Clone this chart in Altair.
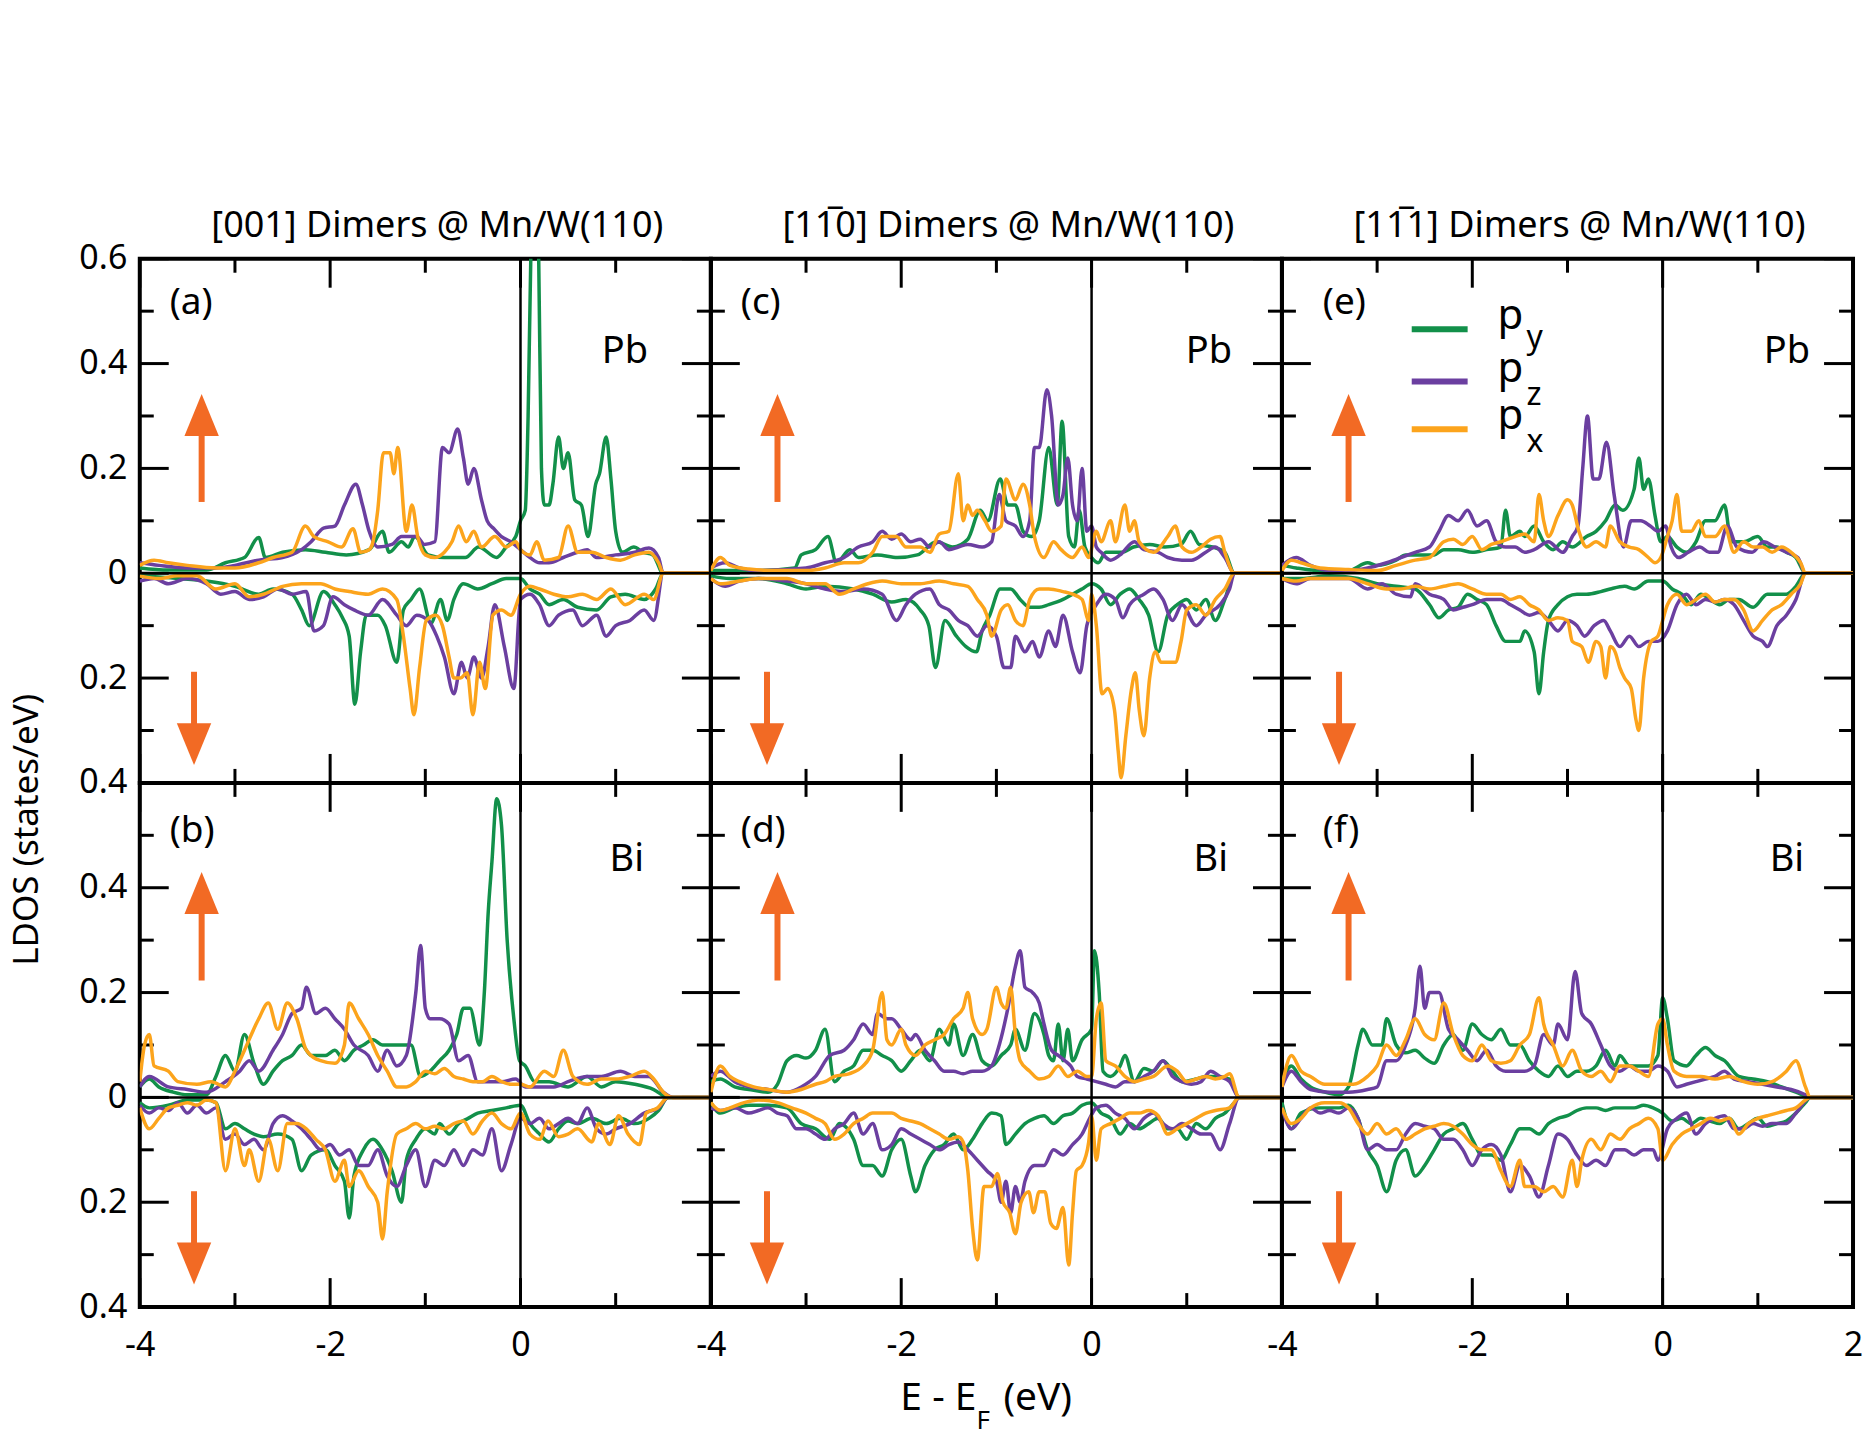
import altair as alt
import pandas as pd

# ---------------------------------------------------------------------------
# Orbital-resolved LDOS of Pb / Bi adatoms next to Mn dimers on W(110).
# Each curve: list of (E - E_F [eV], LDOS [states/eV]).
# Spin-down curves are stored as magnitudes and drawn below zero.
# ---------------------------------------------------------------------------

# (a) [001] dimers, Pb
a_py_up = [(-4, 0.01), (-3.7, 0.006), (-3.3, 0.006), (-3.1, 0.02), (-2.9, 0.03), (-2.75, 0.068), (-2.68, 0.03), (-2.5, 0.04), (-2.26, 0.045), (-2.05, 0.04), (-1.83, 0.035), (-1.59, 0.045), (-1.45, 0.08), (-1.38, 0.04), (-1.25, 0.06), (-1.18, 0.05), (-1.11, 0.07), (-0.97, 0.035), (-0.8, 0.03), (-0.58, 0.03), (-0.44, 0.05), (-0.25, 0.03), (-0.15, 0.05), (-0.05, 0.07), (0.0, 0.1), (0.05, 0.12), (0.08, 0.3), (0.11, 0.62), (0.15, 0.8), (0.19, 0.62), (0.22, 0.2), (0.25, 0.13), (0.3, 0.13), (0.34, 0.17), (0.4, 0.26), (0.45, 0.2), (0.5, 0.23), (0.57, 0.14), (0.64, 0.13), (0.71, 0.07), (0.79, 0.17), (0.83, 0.19), (0.9, 0.26), (0.95, 0.18), (1.0, 0.08), (1.07, 0.04), (1.19, 0.05), (1.29, 0.04), (1.39, 0.035), (1.5, 0.0), (2.0, 0.0)]
a_pz_up = [(-4, 0.02), (-3.8, 0.015), (-3.5, 0.01), (-3.2, 0.01), (-3.0, 0.015), (-2.75, 0.025), (-2.5, 0.03), (-2.3, 0.045), (-2.2, 0.06), (-2.07, 0.086), (-1.95, 0.09), (-1.85, 0.13), (-1.73, 0.17), (-1.66, 0.13), (-1.59, 0.08), (-1.5, 0.05), (-1.35, 0.055), (-1.25, 0.07), (-1.16, 0.07), (-1.09, 0.07), (-1.01, 0.055), (-0.9, 0.06), (-0.82, 0.24), (-0.75, 0.23), (-0.66, 0.275), (-0.6, 0.22), (-0.55, 0.17), (-0.49, 0.2), (-0.41, 0.14), (-0.35, 0.1), (-0.28, 0.085), (-0.2, 0.07), (-0.1, 0.06), (0.0, 0.045), (0.1, 0.03), (0.2, 0.02), (0.3, 0.02), (0.45, 0.03), (0.6, 0.04), (0.7, 0.045), (0.8, 0.03), (1.0, 0.035), (1.2, 0.04), (1.35, 0.048), (1.45, 0.03), (1.5, 0.0), (2.0, 0.0)]
a_px_up = [(-4, 0.015), (-3.85, 0.025), (-3.7, 0.02), (-3.5, 0.015), (-3.2, 0.01), (-3.0, 0.01), (-2.75, 0.02), (-2.6, 0.03), (-2.4, 0.04), (-2.26, 0.09), (-2.17, 0.07), (-2.02, 0.06), (-1.88, 0.05), (-1.76, 0.085), (-1.68, 0.04), (-1.59, 0.045), (-1.55, 0.06), (-1.5, 0.12), (-1.44, 0.23), (-1.37, 0.23), (-1.33, 0.19), (-1.29, 0.24), (-1.2, 0.08), (-1.14, 0.13), (-1.08, 0.07), (-1.0, 0.035), (-0.9, 0.03), (-0.8, 0.04), (-0.72, 0.06), (-0.65, 0.09), (-0.57, 0.06), (-0.49, 0.08), (-0.41, 0.05), (-0.27, 0.07), (-0.15, 0.05), (-0.05, 0.06), (0.0, 0.045), (0.1, 0.035), (0.17, 0.06), (0.25, 0.025), (0.4, 0.03), (0.5, 0.09), (0.6, 0.04), (0.75, 0.04), (0.9, 0.03), (1.05, 0.025), (1.2, 0.035), (1.35, 0.04), (1.45, 0.02), (1.5, 0.0), (2.0, 0.0)]
a_py_dn = [(-4, 0.005), (-3.6, 0.01), (-3.3, 0.015), (-3.0, 0.025), (-2.75, 0.04), (-2.6, 0.03), (-2.4, 0.04), (-2.3, 0.07), (-2.22, 0.1), (-2.07, 0.035), (-1.95, 0.06), (-1.87, 0.085), (-1.8, 0.12), (-1.74, 0.25), (-1.68, 0.15), (-1.62, 0.08), (-1.5, 0.08), (-1.42, 0.1), (-1.3, 0.17), (-1.23, 0.07), (-1.15, 0.05), (-1.06, 0.03), (-0.94, 0.095), (-0.84, 0.05), (-0.77, 0.09), (-0.7, 0.05), (-0.6, 0.02), (-0.45, 0.03), (-0.3, 0.02), (-0.15, 0.01), (0.0, 0.01), (0.1, 0.03), (0.2, 0.04), (0.3, 0.06), (0.45, 0.05), (0.6, 0.065), (0.8, 0.07), (0.95, 0.045), (1.1, 0.04), (1.3, 0.05), (1.42, 0.03), (1.5, 0.0), (2.0, 0.0)]
a_pz_dn = [(-4, 0.015), (-3.85, 0.01), (-3.7, 0.02), (-3.5, 0.01), (-3.3, 0.02), (-3.15, 0.04), (-3.0, 0.035), (-2.85, 0.05), (-2.7, 0.045), (-2.55, 0.03), (-2.4, 0.04), (-2.25, 0.035), (-2.17, 0.11), (-2.07, 0.1), (-1.97, 0.045), (-1.85, 0.06), (-1.75, 0.07), (-1.6, 0.08), (-1.45, 0.05), (-1.3, 0.08), (-1.2, 0.1), (-1.09, 0.08), (-0.97, 0.09), (-0.88, 0.12), (-0.8, 0.16), (-0.7, 0.23), (-0.62, 0.17), (-0.56, 0.2), (-0.49, 0.16), (-0.41, 0.2), (-0.34, 0.14), (-0.27, 0.06), (-0.17, 0.14), (-0.07, 0.22), (0.0, 0.05), (0.1, 0.04), (0.2, 0.06), (0.3, 0.1), (0.4, 0.08), (0.55, 0.07), (0.65, 0.1), (0.8, 0.08), (0.9, 0.12), (1.0, 0.1), (1.15, 0.09), (1.3, 0.07), (1.4, 0.09), (1.5, 0.0), (2.0, 0.0)]
a_px_dn = [(-4, 0.005), (-3.8, 0.01), (-3.6, 0.005), (-3.4, 0.005), (-3.2, 0.03), (-3.0, 0.02), (-2.85, 0.045), (-2.7, 0.04), (-2.5, 0.025), (-2.3, 0.02), (-2.1, 0.02), (-1.95, 0.03), (-1.8, 0.035), (-1.6, 0.04), (-1.45, 0.03), (-1.3, 0.05), (-1.23, 0.12), (-1.16, 0.22), (-1.12, 0.27), (-1.06, 0.18), (-0.99, 0.09), (-0.89, 0.08), (-0.82, 0.1), (-0.75, 0.16), (-0.7, 0.2), (-0.63, 0.2), (-0.56, 0.19), (-0.5, 0.27), (-0.43, 0.17), (-0.37, 0.22), (-0.29, 0.08), (-0.2, 0.07), (-0.1, 0.08), (0.0, 0.04), (0.1, 0.025), (0.2, 0.03), (0.35, 0.04), (0.5, 0.045), (0.65, 0.04), (0.8, 0.05), (0.95, 0.03), (1.1, 0.06), (1.3, 0.04), (1.4, 0.05), (1.5, 0.0), (2.0, 0.0)]

# (b) [001] dimers, Bi
b_py_up = [(-4, 0.02), (-3.9, 0.035), (-3.8, 0.02), (-3.65, 0.01), (-3.5, 0.005), (-3.3, 0.005), (-3.2, 0.04), (-3.1, 0.08), (-3.0, 0.05), (-2.9, 0.12), (-2.8, 0.065), (-2.7, 0.025), (-2.6, 0.05), (-2.5, 0.07), (-2.4, 0.08), (-2.3, 0.1), (-2.2, 0.08), (-2.05, 0.08), (-1.95, 0.09), (-1.85, 0.07), (-1.75, 0.09), (-1.65, 0.1), (-1.55, 0.11), (-1.45, 0.1), (-1.35, 0.1), (-1.25, 0.1), (-1.15, 0.1), (-1.05, 0.04), (-0.95, 0.05), (-0.85, 0.07), (-0.75, 0.09), (-0.67, 0.12), (-0.6, 0.17), (-0.53, 0.17), (-0.43, 0.1), (-0.38, 0.2), (-0.34, 0.35), (-0.3, 0.45), (-0.25, 0.57), (-0.2, 0.52), (-0.14, 0.3), (-0.07, 0.15), (-0.01, 0.07), (0.05, 0.06), (0.15, 0.03), (0.3, 0.03), (0.5, 0.02), (0.7, 0.04), (0.85, 0.02), (1.0, 0.03), (1.2, 0.025), (1.4, 0.015), (1.55, 0.0), (2.0, 0.0)]
b_pz_up = [(-4, 0.02), (-3.9, 0.04), (-3.7, 0.02), (-3.5, 0.015), (-3.3, 0.01), (-3.1, 0.03), (-2.95, 0.05), (-2.85, 0.07), (-2.75, 0.05), (-2.6, 0.09), (-2.5, 0.12), (-2.4, 0.16), (-2.3, 0.17), (-2.25, 0.21), (-2.15, 0.16), (-2.05, 0.17), (-1.95, 0.15), (-1.85, 0.13), (-1.75, 0.1), (-1.6, 0.08), (-1.5, 0.05), (-1.4, 0.09), (-1.3, 0.06), (-1.2, 0.08), (-1.1, 0.2), (-1.05, 0.29), (-1.0, 0.17), (-0.95, 0.15), (-0.85, 0.15), (-0.75, 0.14), (-0.65, 0.07), (-0.55, 0.08), (-0.45, 0.03), (-0.35, 0.03), (-0.2, 0.03), (-0.05, 0.035), (0.05, 0.02), (0.2, 0.02), (0.35, 0.02), (0.5, 0.03), (0.7, 0.04), (0.85, 0.04), (1.05, 0.05), (1.2, 0.04), (1.35, 0.04), (1.5, 0.01), (1.6, 0.0), (2.0, 0.0)]
b_px_up = [(-4, 0.03), (-3.95, 0.1), (-3.9, 0.12), (-3.85, 0.06), (-3.7, 0.05), (-3.6, 0.03), (-3.4, 0.025), (-3.25, 0.03), (-3.1, 0.02), (-3.0, 0.05), (-2.9, 0.09), (-2.75, 0.15), (-2.65, 0.18), (-2.55, 0.13), (-2.45, 0.18), (-2.35, 0.15), (-2.25, 0.09), (-2.1, 0.07), (-1.95, 0.065), (-1.85, 0.1), (-1.8, 0.18), (-1.7, 0.15), (-1.6, 0.12), (-1.5, 0.08), (-1.4, 0.05), (-1.3, 0.02), (-1.2, 0.02), (-1.1, 0.03), (-1.0, 0.05), (-0.9, 0.045), (-0.8, 0.055), (-0.7, 0.04), (-0.6, 0.035), (-0.5, 0.03), (-0.4, 0.03), (-0.3, 0.04), (-0.2, 0.03), (-0.1, 0.025), (0.0, 0.025), (0.1, 0.02), (0.25, 0.05), (0.35, 0.04), (0.45, 0.09), (0.55, 0.04), (0.7, 0.025), (0.85, 0.035), (1.0, 0.035), (1.15, 0.04), (1.3, 0.05), (1.4, 0.035), (1.5, 0.01), (1.6, 0.0), (2.0, 0.0)]
b_py_dn = [(-4, 0.01), (-3.9, 0.02), (-3.7, 0.015), (-3.5, 0.005), (-3.3, 0.005), (-3.2, 0.01), (-3.1, 0.06), (-3.0, 0.05), (-2.9, 0.06), (-2.8, 0.07), (-2.7, 0.075), (-2.55, 0.07), (-2.4, 0.08), (-2.3, 0.14), (-2.2, 0.11), (-2.05, 0.1), (-1.95, 0.13), (-1.85, 0.16), (-1.8, 0.23), (-1.75, 0.15), (-1.65, 0.1), (-1.55, 0.08), (-1.45, 0.1), (-1.35, 0.14), (-1.25, 0.2), (-1.2, 0.12), (-1.1, 0.08), (-1.0, 0.06), (-0.9, 0.07), (-0.85, 0.05), (-0.75, 0.07), (-0.65, 0.05), (-0.55, 0.04), (-0.45, 0.03), (-0.3, 0.025), (-0.15, 0.02), (0.0, 0.015), (0.1, 0.05), (0.2, 0.07), (0.3, 0.085), (0.4, 0.06), (0.5, 0.045), (0.6, 0.05), (0.75, 0.04), (0.9, 0.05), (1.05, 0.04), (1.2, 0.05), (1.35, 0.04), (1.45, 0.025), (1.55, 0.0), (2.0, 0.0)]
b_pz_dn = [(-4, 0.015), (-3.9, 0.03), (-3.8, 0.02), (-3.7, 0.025), (-3.6, 0.01), (-3.5, 0.03), (-3.4, 0.015), (-3.3, 0.03), (-3.2, 0.02), (-3.1, 0.08), (-3.0, 0.07), (-2.9, 0.09), (-2.8, 0.08), (-2.7, 0.1), (-2.6, 0.05), (-2.5, 0.035), (-2.4, 0.045), (-2.3, 0.06), (-2.2, 0.08), (-2.1, 0.1), (-2.0, 0.09), (-1.9, 0.11), (-1.8, 0.1), (-1.7, 0.13), (-1.6, 0.13), (-1.5, 0.1), (-1.4, 0.15), (-1.3, 0.17), (-1.2, 0.13), (-1.1, 0.1), (-1.0, 0.17), (-0.9, 0.12), (-0.8, 0.13), (-0.7, 0.1), (-0.6, 0.13), (-0.5, 0.1), (-0.4, 0.11), (-0.3, 0.06), (-0.2, 0.14), (-0.1, 0.09), (0.0, 0.04), (0.1, 0.05), (0.2, 0.04), (0.3, 0.06), (0.4, 0.05), (0.5, 0.04), (0.6, 0.05), (0.7, 0.02), (0.8, 0.06), (0.9, 0.07), (1.0, 0.06), (1.15, 0.05), (1.3, 0.03), (1.45, 0.02), (1.55, 0.0), (2.0, 0.0)]
b_px_dn = [(-4, 0.02), (-3.9, 0.06), (-3.8, 0.04), (-3.7, 0.02), (-3.6, 0.015), (-3.5, 0.01), (-3.4, 0.015), (-3.3, 0.005), (-3.2, 0.01), (-3.1, 0.14), (-3.0, 0.06), (-2.9, 0.13), (-2.85, 0.1), (-2.75, 0.16), (-2.65, 0.08), (-2.55, 0.14), (-2.45, 0.05), (-2.35, 0.05), (-2.25, 0.06), (-2.15, 0.08), (-2.05, 0.1), (-1.95, 0.16), (-1.85, 0.12), (-1.8, 0.17), (-1.7, 0.14), (-1.6, 0.17), (-1.5, 0.2), (-1.45, 0.27), (-1.4, 0.18), (-1.3, 0.07), (-1.2, 0.06), (-1.1, 0.05), (-1.0, 0.06), (-0.9, 0.055), (-0.8, 0.06), (-0.7, 0.05), (-0.6, 0.045), (-0.5, 0.07), (-0.4, 0.045), (-0.3, 0.03), (-0.2, 0.05), (-0.1, 0.06), (0.0, 0.03), (0.1, 0.07), (0.2, 0.08), (0.29, 0.045), (0.4, 0.075), (0.5, 0.07), (0.6, 0.06), (0.75, 0.085), (0.82, 0.05), (0.94, 0.09), (1.03, 0.035), (1.13, 0.07), (1.25, 0.09), (1.32, 0.03), (1.44, 0.02), (1.55, 0.0), (2.0, 0.0)]

# (c) [1-10] dimers, Pb
c_py_up = [(-4, 0.005), (-3.5, 0.005), (-3.12, 0.01), (-3.05, 0.035), (-2.9, 0.045), (-2.77, 0.07), (-2.68, 0.02), (-2.54, 0.045), (-2.45, 0.03), (-2.25, 0.035), (-2.04, 0.03), (-1.83, 0.035), (-1.63, 0.06), (-1.46, 0.05), (-1.3, 0.065), (-1.17, 0.12), (-1.09, 0.1), (-0.96, 0.18), (-0.88, 0.13), (-0.8, 0.13), (-0.72, 0.08), (-0.63, 0.07), (-0.55, 0.1), (-0.45, 0.24), (-0.36, 0.13), (-0.31, 0.29), (-0.24, 0.07), (-0.18, 0.05), (-0.13, 0.12), (-0.07, 0.05), (0.0, 0.03), (0.07, 0.02), (0.15, 0.04), (0.32, 0.04), (0.44, 0.05), (0.61, 0.055), (0.77, 0.05), (0.94, 0.055), (1.04, 0.08), (1.13, 0.055), (1.27, 0.05), (1.4, 0.04), (1.5, 0.0), (2.0, 0.0)]
c_pz_up = [(-4, 0.01), (-3.85, 0.02), (-3.7, 0.01), (-3.5, 0.005), (-3.0, 0.01), (-2.8, 0.02), (-2.6, 0.03), (-2.45, 0.05), (-2.3, 0.06), (-2.2, 0.08), (-2.1, 0.065), (-2.0, 0.075), (-1.9, 0.06), (-1.8, 0.065), (-1.7, 0.05), (-1.6, 0.06), (-1.5, 0.045), (-1.4, 0.05), (-1.3, 0.055), (-1.15, 0.05), (-1.05, 0.06), (-0.97, 0.15), (-0.9, 0.1), (-0.8, 0.09), (-0.72, 0.07), (-0.65, 0.1), (-0.6, 0.24), (-0.55, 0.24), (-0.47, 0.35), (-0.42, 0.3), (-0.35, 0.13), (-0.3, 0.15), (-0.25, 0.22), (-0.2, 0.13), (-0.15, 0.1), (-0.1, 0.2), (-0.05, 0.08), (0.0, 0.09), (0.05, 0.05), (0.1, 0.04), (0.2, 0.025), (0.3, 0.035), (0.45, 0.06), (0.55, 0.045), (0.7, 0.04), (0.8, 0.03), (0.95, 0.025), (1.05, 0.025), (1.2, 0.04), (1.3, 0.05), (1.4, 0.03), (1.5, 0.0), (2.0, 0.0)]
c_px_up = [(-4, 0.005), (-3.9, 0.03), (-3.8, 0.015), (-3.6, 0.008), (-3.3, 0.005), (-3.0, 0.005), (-2.8, 0.01), (-2.6, 0.02), (-2.45, 0.02), (-2.3, 0.04), (-2.2, 0.07), (-2.05, 0.07), (-1.95, 0.05), (-1.8, 0.05), (-1.7, 0.04), (-1.6, 0.075), (-1.5, 0.08), (-1.4, 0.19), (-1.35, 0.1), (-1.3, 0.13), (-1.25, 0.11), (-1.2, 0.12), (-1.12, 0.1), (-1.05, 0.08), (-0.95, 0.09), (-0.9, 0.18), (-0.8, 0.14), (-0.72, 0.17), (-0.65, 0.13), (-0.6, 0.07), (-0.5, 0.03), (-0.4, 0.06), (-0.32, 0.045), (-0.2, 0.03), (-0.1, 0.05), (-0.03, 0.03), (0.05, 0.08), (0.1, 0.06), (0.2, 0.1), (0.25, 0.06), (0.35, 0.13), (0.4, 0.08), (0.45, 0.1), (0.5, 0.06), (0.65, 0.04), (0.8, 0.07), (0.88, 0.09), (0.95, 0.05), (1.05, 0.04), (1.15, 0.05), (1.25, 0.065), (1.35, 0.07), (1.4, 0.04), (1.5, 0.0), (2.0, 0.0)]
c_py_dn = [(-4, 0.005), (-3.8, 0.01), (-3.5, 0.01), (-3.2, 0.02), (-3.0, 0.03), (-2.8, 0.025), (-2.5, 0.03), (-2.3, 0.04), (-2.1, 0.055), (-1.95, 0.05), (-1.8, 0.07), (-1.71, 0.1), (-1.64, 0.18), (-1.54, 0.09), (-1.42, 0.12), (-1.32, 0.14), (-1.21, 0.15), (-1.15, 0.11), (-1.07, 0.08), (-0.96, 0.03), (-0.85, 0.03), (-0.75, 0.05), (-0.65, 0.065), (-0.55, 0.065), (-0.45, 0.06), (-0.3, 0.05), (-0.2, 0.04), (-0.1, 0.03), (0.0, 0.02), (0.1, 0.03), (0.2, 0.06), (0.3, 0.04), (0.4, 0.03), (0.5, 0.05), (0.6, 0.08), (0.7, 0.15), (0.8, 0.08), (0.9, 0.06), (1.0, 0.05), (1.1, 0.07), (1.2, 0.05), (1.3, 0.09), (1.4, 0.05), (1.5, 0.0), (2.0, 0.0)]
c_pz_dn = [(-4, 0.01), (-3.85, 0.025), (-3.7, 0.015), (-3.5, 0.01), (-3.2, 0.015), (-3.0, 0.02), (-2.8, 0.03), (-2.6, 0.035), (-2.4, 0.03), (-2.2, 0.04), (-2.05, 0.09), (-1.95, 0.06), (-1.85, 0.04), (-1.7, 0.03), (-1.6, 0.06), (-1.5, 0.07), (-1.4, 0.09), (-1.3, 0.1), (-1.2, 0.12), (-1.1, 0.1), (-1.0, 0.12), (-0.92, 0.18), (-0.85, 0.18), (-0.8, 0.12), (-0.7, 0.15), (-0.62, 0.13), (-0.55, 0.16), (-0.45, 0.11), (-0.38, 0.14), (-0.3, 0.08), (-0.2, 0.15), (-0.12, 0.19), (-0.05, 0.1), (0.05, 0.06), (0.15, 0.04), (0.25, 0.05), (0.33, 0.085), (0.4, 0.06), (0.55, 0.04), (0.65, 0.03), (0.75, 0.05), (0.85, 0.09), (0.95, 0.06), (1.1, 0.1), (1.2, 0.08), (1.35, 0.06), (1.45, 0.03), (1.5, 0.0), (2.0, 0.0)]
c_px_dn = [(-4, 0.01), (-3.9, 0.02), (-3.7, 0.015), (-3.5, 0.01), (-3.2, 0.01), (-3.0, 0.02), (-2.8, 0.02), (-2.65, 0.04), (-2.5, 0.03), (-2.35, 0.02), (-2.2, 0.015), (-2.0, 0.02), (-1.8, 0.02), (-1.6, 0.015), (-1.45, 0.02), (-1.3, 0.025), (-1.2, 0.05), (-1.1, 0.08), (-1.05, 0.12), (-0.95, 0.07), (-0.88, 0.06), (-0.8, 0.09), (-0.72, 0.1), (-0.65, 0.05), (-0.55, 0.03), (-0.45, 0.03), (-0.3, 0.035), (-0.2, 0.04), (-0.1, 0.05), (-0.03, 0.09), (0.0, 0.04), (0.05, 0.1), (0.11, 0.23), (0.17, 0.22), (0.24, 0.26), (0.28, 0.34), (0.31, 0.39), (0.36, 0.31), (0.42, 0.22), (0.46, 0.19), (0.5, 0.26), (0.55, 0.31), (0.61, 0.2), (0.67, 0.15), (0.73, 0.17), (0.82, 0.17), (0.88, 0.17), (0.94, 0.13), (1.0, 0.07), (1.1, 0.06), (1.2, 0.08), (1.3, 0.05), (1.4, 0.03), (1.5, 0.0), (2.0, 0.0)]

# (d) [1-10] dimers, Bi
d_py_up = [(-4, 0.03), (-3.9, 0.035), (-3.75, 0.02), (-3.6, 0.015), (-3.4, 0.01), (-3.3, 0.025), (-3.2, 0.07), (-3.1, 0.08), (-3.0, 0.075), (-2.9, 0.09), (-2.8, 0.13), (-2.7, 0.03), (-2.6, 0.05), (-2.5, 0.06), (-2.4, 0.09), (-2.3, 0.09), (-2.2, 0.08), (-2.1, 0.07), (-2.0, 0.05), (-1.9, 0.07), (-1.8, 0.09), (-1.7, 0.07), (-1.6, 0.13), (-1.5, 0.1), (-1.45, 0.14), (-1.35, 0.08), (-1.25, 0.12), (-1.15, 0.07), (-1.05, 0.06), (-0.95, 0.08), (-0.85, 0.1), (-0.8, 0.13), (-0.7, 0.09), (-0.6, 0.16), (-0.5, 0.12), (-0.45, 0.08), (-0.4, 0.07), (-0.35, 0.14), (-0.3, 0.07), (-0.25, 0.13), (-0.2, 0.07), (-0.1, 0.11), (0.0, 0.13), (0.03, 0.28), (0.08, 0.2), (0.12, 0.05), (0.2, 0.04), (0.3, 0.06), (0.35, 0.08), (0.45, 0.03), (0.55, 0.055), (0.65, 0.05), (0.75, 0.07), (0.85, 0.05), (0.95, 0.03), (1.1, 0.035), (1.2, 0.04), (1.3, 0.04), (1.45, 0.035), (1.55, 0.0), (2.0, 0.0)]
d_pz_up = [(-4, 0.04), (-3.9, 0.05), (-3.75, 0.03), (-3.6, 0.02), (-3.4, 0.015), (-3.2, 0.01), (-3.05, 0.02), (-2.9, 0.04), (-2.75, 0.08), (-2.6, 0.09), (-2.5, 0.11), (-2.4, 0.14), (-2.3, 0.12), (-2.25, 0.16), (-2.15, 0.15), (-2.1, 0.15), (-2.0, 0.13), (-1.9, 0.11), (-1.85, 0.12), (-1.75, 0.09), (-1.65, 0.07), (-1.55, 0.05), (-1.45, 0.05), (-1.35, 0.045), (-1.25, 0.05), (-1.15, 0.05), (-1.05, 0.06), (-0.97, 0.1), (-0.88, 0.17), (-0.8, 0.25), (-0.75, 0.28), (-0.7, 0.21), (-0.62, 0.2), (-0.55, 0.18), (-0.5, 0.14), (-0.42, 0.09), (-0.35, 0.08), (-0.28, 0.07), (-0.22, 0.06), (-0.15, 0.04), (-0.05, 0.035), (0.05, 0.03), (0.15, 0.025), (0.25, 0.02), (0.35, 0.03), (0.45, 0.03), (0.55, 0.04), (0.65, 0.05), (0.75, 0.07), (0.85, 0.04), (0.95, 0.03), (1.05, 0.025), (1.15, 0.03), (1.25, 0.05), (1.35, 0.04), (1.45, 0.03), (1.55, 0.0), (2.0, 0.0)]
d_px_up = [(-4, 0.01), (-3.9, 0.06), (-3.8, 0.04), (-3.7, 0.03), (-3.55, 0.02), (-3.4, 0.015), (-3.2, 0.01), (-3.05, 0.015), (-2.9, 0.025), (-2.8, 0.03), (-2.7, 0.04), (-2.55, 0.045), (-2.4, 0.06), (-2.3, 0.09), (-2.2, 0.2), (-2.15, 0.11), (-2.1, 0.1), (-2.0, 0.13), (-1.95, 0.1), (-1.85, 0.08), (-1.75, 0.1), (-1.65, 0.11), (-1.55, 0.12), (-1.45, 0.15), (-1.35, 0.17), (-1.3, 0.2), (-1.25, 0.15), (-1.15, 0.12), (-1.1, 0.13), (-1.0, 0.21), (-0.95, 0.18), (-0.9, 0.17), (-0.85, 0.21), (-0.8, 0.12), (-0.75, 0.07), (-0.65, 0.05), (-0.55, 0.035), (-0.45, 0.04), (-0.35, 0.06), (-0.25, 0.04), (-0.15, 0.05), (-0.05, 0.04), (0.0, 0.04), (0.05, 0.15), (0.1, 0.18), (0.15, 0.07), (0.25, 0.06), (0.35, 0.04), (0.45, 0.03), (0.55, 0.035), (0.65, 0.04), (0.8, 0.06), (0.9, 0.05), (1.0, 0.03), (1.1, 0.035), (1.2, 0.04), (1.3, 0.035), (1.4, 0.04), (1.45, 0.045), (1.55, 0.0), (2.0, 0.0)]
d_py_dn = [(-4, 0.01), (-3.9, 0.03), (-3.75, 0.02), (-3.6, 0.015), (-3.4, 0.015), (-3.2, 0.02), (-3.05, 0.05), (-2.9, 0.06), (-2.75, 0.08), (-2.65, 0.05), (-2.5, 0.08), (-2.4, 0.13), (-2.3, 0.13), (-2.2, 0.15), (-2.1, 0.1), (-2.0, 0.08), (-1.9, 0.15), (-1.85, 0.18), (-1.75, 0.13), (-1.65, 0.1), (-1.55, 0.09), (-1.45, 0.07), (-1.35, 0.1), (-1.25, 0.08), (-1.15, 0.05), (-1.05, 0.03), (-0.95, 0.035), (-0.9, 0.09), (-0.8, 0.07), (-0.7, 0.05), (-0.6, 0.04), (-0.5, 0.035), (-0.4, 0.05), (-0.3, 0.035), (-0.2, 0.03), (-0.1, 0.015), (0.0, 0.01), (0.1, 0.03), (0.2, 0.04), (0.3, 0.07), (0.4, 0.05), (0.5, 0.06), (0.6, 0.05), (0.7, 0.04), (0.8, 0.06), (0.9, 0.06), (1.0, 0.08), (1.1, 0.05), (1.2, 0.06), (1.3, 0.04), (1.4, 0.03), (1.5, 0.01), (1.55, 0.0), (2.0, 0.0)]
d_pz_dn = [(-4, 0.02), (-3.9, 0.025), (-3.75, 0.02), (-3.6, 0.03), (-3.5, 0.025), (-3.4, 0.02), (-3.3, 0.03), (-3.2, 0.035), (-3.1, 0.06), (-3.0, 0.06), (-2.9, 0.07), (-2.8, 0.08), (-2.7, 0.06), (-2.6, 0.05), (-2.5, 0.03), (-2.4, 0.07), (-2.3, 0.05), (-2.2, 0.1), (-2.1, 0.09), (-2.0, 0.06), (-1.9, 0.07), (-1.8, 0.08), (-1.7, 0.09), (-1.6, 0.1), (-1.5, 0.09), (-1.4, 0.085), (-1.3, 0.1), (-1.2, 0.12), (-1.1, 0.14), (-1.0, 0.16), (-0.95, 0.2), (-0.9, 0.16), (-0.85, 0.22), (-0.8, 0.17), (-0.75, 0.2), (-0.7, 0.16), (-0.6, 0.13), (-0.5, 0.13), (-0.4, 0.1), (-0.3, 0.11), (-0.2, 0.09), (-0.1, 0.07), (-0.02, 0.04), (0.05, 0.02), (0.15, 0.015), (0.25, 0.03), (0.35, 0.04), (0.45, 0.06), (0.55, 0.04), (0.65, 0.03), (0.75, 0.05), (0.85, 0.06), (0.95, 0.05), (1.05, 0.06), (1.15, 0.07), (1.25, 0.07), (1.35, 0.1), (1.45, 0.05), (1.55, 0.0), (2.0, 0.0)]
d_px_dn = [(-4, 0.01), (-3.9, 0.025), (-3.8, 0.02), (-3.65, 0.01), (-3.5, 0.005), (-3.3, 0.01), (-3.15, 0.02), (-3.0, 0.03), (-2.9, 0.04), (-2.8, 0.05), (-2.7, 0.08), (-2.6, 0.07), (-2.5, 0.05), (-2.4, 0.04), (-2.3, 0.03), (-2.2, 0.03), (-2.1, 0.03), (-2.0, 0.04), (-1.9, 0.045), (-1.8, 0.05), (-1.7, 0.06), (-1.6, 0.07), (-1.5, 0.08), (-1.4, 0.075), (-1.35, 0.085), (-1.3, 0.14), (-1.25, 0.25), (-1.2, 0.31), (-1.13, 0.17), (-1.05, 0.17), (-0.99, 0.145), (-0.93, 0.2), (-0.86, 0.22), (-0.8, 0.26), (-0.74, 0.2), (-0.66, 0.18), (-0.61, 0.22), (-0.55, 0.18), (-0.49, 0.18), (-0.43, 0.24), (-0.37, 0.25), (-0.3, 0.21), (-0.24, 0.32), (-0.2, 0.22), (-0.16, 0.14), (-0.1, 0.13), (-0.03, 0.085), (0.0, 0.035), (0.05, 0.12), (0.1, 0.06), (0.2, 0.05), (0.3, 0.04), (0.4, 0.03), (0.5, 0.03), (0.6, 0.025), (0.7, 0.035), (0.8, 0.07), (0.9, 0.06), (1.0, 0.05), (1.1, 0.04), (1.2, 0.03), (1.3, 0.025), (1.45, 0.02), (1.55, 0.0), (2.0, 0.0)]

# (e) [1-11] dimers, Pb
e_py_up = [(-4, 0.015), (-3.85, 0.01), (-3.6, 0.005), (-3.3, 0.005), (-3.1, 0.02), (-3.0, 0.015), (-2.8, 0.025), (-2.7, 0.035), (-2.55, 0.035), (-2.4, 0.035), (-2.3, 0.045), (-2.15, 0.045), (-2.0, 0.04), (-1.85, 0.045), (-1.7, 0.05), (-1.65, 0.12), (-1.6, 0.07), (-1.5, 0.08), (-1.45, 0.07), (-1.35, 0.09), (-1.25, 0.06), (-1.15, 0.045), (-1.05, 0.06), (-0.95, 0.05), (-0.8, 0.07), (-0.7, 0.08), (-0.6, 0.1), (-0.5, 0.13), (-0.42, 0.12), (-0.3, 0.16), (-0.25, 0.22), (-0.2, 0.16), (-0.15, 0.18), (-0.08, 0.11), (-0.02, 0.06), (0.05, 0.07), (0.15, 0.05), (0.25, 0.04), (0.35, 0.06), (0.45, 0.1), (0.55, 0.1), (0.65, 0.13), (0.72, 0.06), (0.85, 0.06), (1.0, 0.07), (1.1, 0.05), (1.2, 0.05), (1.3, 0.04), (1.4, 0.03), (1.5, 0.0), (2.0, 0.0)]
e_pz_up = [(-4, 0.015), (-3.85, 0.03), (-3.7, 0.015), (-3.5, 0.005), (-3.3, 0.005), (-3.1, 0.01), (-2.9, 0.02), (-2.75, 0.03), (-2.6, 0.04), (-2.45, 0.05), (-2.35, 0.08), (-2.25, 0.11), (-2.15, 0.1), (-2.05, 0.12), (-1.95, 0.09), (-1.85, 0.1), (-1.75, 0.06), (-1.65, 0.05), (-1.55, 0.05), (-1.45, 0.04), (-1.35, 0.045), (-1.2, 0.06), (-1.05, 0.04), (-0.95, 0.07), (-0.89, 0.09), (-0.84, 0.2), (-0.79, 0.3), (-0.73, 0.18), (-0.67, 0.18), (-0.59, 0.25), (-0.51, 0.15), (-0.41, 0.05), (-0.33, 0.1), (-0.23, 0.1), (-0.13, 0.09), (-0.05, 0.08), (0.03, 0.09), (0.09, 0.05), (0.17, 0.03), (0.27, 0.04), (0.39, 0.05), (0.49, 0.04), (0.58, 0.04), (0.68, 0.09), (0.78, 0.05), (0.94, 0.04), (1.06, 0.06), (1.18, 0.05), (1.3, 0.04), (1.42, 0.03), (1.5, 0.0), (2.0, 0.0)]
e_px_up = [(-4, 0.005), (-3.9, 0.025), (-3.8, 0.02), (-3.6, 0.01), (-3.3, 0.007), (-3.0, 0.005), (-2.8, 0.015), (-2.6, 0.025), (-2.45, 0.03), (-2.3, 0.06), (-2.2, 0.065), (-2.1, 0.055), (-2.0, 0.07), (-1.9, 0.045), (-1.8, 0.055), (-1.7, 0.06), (-1.55, 0.07), (-1.45, 0.075), (-1.35, 0.06), (-1.3, 0.15), (-1.25, 0.1), (-1.2, 0.07), (-1.1, 0.11), (-1.0, 0.14), (-0.95, 0.13), (-0.88, 0.08), (-0.8, 0.05), (-0.7, 0.06), (-0.6, 0.05), (-0.55, 0.09), (-0.45, 0.06), (-0.35, 0.05), (-0.25, 0.045), (-0.15, 0.03), (-0.08, 0.02), (-0.02, 0.03), (0.05, 0.07), (0.1, 0.1), (0.15, 0.15), (0.2, 0.08), (0.3, 0.08), (0.38, 0.1), (0.45, 0.07), (0.55, 0.07), (0.65, 0.09), (0.75, 0.04), (0.85, 0.06), (0.95, 0.05), (1.05, 0.05), (1.15, 0.04), (1.25, 0.05), (1.35, 0.04), (1.45, 0.02), (1.5, 0.0), (2.0, 0.0)]
e_py_dn = [(-4, 0.01), (-3.8, 0.01), (-3.5, 0.005), (-3.2, 0.01), (-3.0, 0.02), (-2.8, 0.025), (-2.6, 0.03), (-2.45, 0.06), (-2.35, 0.085), (-2.25, 0.07), (-2.15, 0.065), (-2.05, 0.04), (-1.95, 0.05), (-1.85, 0.06), (-1.75, 0.1), (-1.65, 0.13), (-1.5, 0.13), (-1.45, 0.11), (-1.35, 0.15), (-1.3, 0.23), (-1.25, 0.15), (-1.2, 0.09), (-1.1, 0.06), (-1.0, 0.045), (-0.9, 0.04), (-0.8, 0.04), (-0.65, 0.035), (-0.55, 0.03), (-0.4, 0.025), (-0.3, 0.03), (-0.15, 0.015), (0.0, 0.015), (0.1, 0.03), (0.2, 0.04), (0.3, 0.06), (0.4, 0.04), (0.5, 0.05), (0.6, 0.06), (0.7, 0.05), (0.8, 0.05), (0.95, 0.065), (1.1, 0.04), (1.2, 0.04), (1.3, 0.04), (1.4, 0.025), (1.5, 0.0), (2.0, 0.0)]
e_pz_dn = [(-4, 0.01), (-3.85, 0.02), (-3.7, 0.01), (-3.5, 0.01), (-3.3, 0.01), (-3.1, 0.03), (-2.95, 0.02), (-2.8, 0.04), (-2.65, 0.045), (-2.6, 0.02), (-2.45, 0.04), (-2.3, 0.05), (-2.2, 0.07), (-2.1, 0.065), (-2.0, 0.06), (-1.85, 0.05), (-1.7, 0.05), (-1.6, 0.06), (-1.5, 0.07), (-1.4, 0.08), (-1.3, 0.075), (-1.2, 0.09), (-1.1, 0.11), (-1.0, 0.09), (-0.9, 0.1), (-0.82, 0.12), (-0.72, 0.1), (-0.62, 0.09), (-0.55, 0.11), (-0.45, 0.14), (-0.35, 0.12), (-0.25, 0.14), (-0.15, 0.13), (-0.05, 0.13), (0.05, 0.11), (0.15, 0.06), (0.25, 0.04), (0.35, 0.06), (0.45, 0.05), (0.55, 0.055), (0.65, 0.05), (0.75, 0.06), (0.85, 0.09), (0.95, 0.12), (1.05, 0.13), (1.1, 0.14), (1.2, 0.1), (1.3, 0.08), (1.4, 0.05), (1.5, 0.0), (2.0, 0.0)]
e_px_dn = [(-4, 0.01), (-3.85, 0.015), (-3.7, 0.01), (-3.5, 0.01), (-3.3, 0.01), (-3.1, 0.02), (-2.9, 0.03), (-2.75, 0.03), (-2.6, 0.025), (-2.45, 0.03), (-2.3, 0.025), (-2.15, 0.02), (-2.0, 0.03), (-1.85, 0.04), (-1.7, 0.04), (-1.6, 0.05), (-1.5, 0.045), (-1.4, 0.06), (-1.3, 0.07), (-1.2, 0.09), (-1.1, 0.085), (-1.0, 0.09), (-0.95, 0.13), (-0.85, 0.14), (-0.78, 0.17), (-0.7, 0.13), (-0.65, 0.14), (-0.6, 0.2), (-0.55, 0.14), (-0.5, 0.15), (-0.45, 0.18), (-0.4, 0.2), (-0.33, 0.22), (-0.28, 0.28), (-0.25, 0.3), (-0.2, 0.2), (-0.12, 0.13), (-0.05, 0.12), (0.0, 0.09), (0.05, 0.06), (0.15, 0.04), (0.25, 0.06), (0.35, 0.05), (0.45, 0.04), (0.55, 0.055), (0.65, 0.05), (0.75, 0.05), (0.85, 0.07), (0.95, 0.11), (1.05, 0.09), (1.15, 0.07), (1.25, 0.06), (1.35, 0.04), (1.45, 0.02), (1.5, 0.0), (2.0, 0.0)]

# (f) [1-11] dimers, Bi
f_py_up = [(-4, 0.03), (-3.9, 0.06), (-3.8, 0.035), (-3.7, 0.02), (-3.55, 0.01), (-3.4, 0.005), (-3.3, 0.02), (-3.2, 0.1), (-3.15, 0.13), (-3.05, 0.1), (-2.95, 0.1), (-2.9, 0.15), (-2.8, 0.1), (-2.7, 0.085), (-2.6, 0.09), (-2.5, 0.075), (-2.4, 0.065), (-2.3, 0.1), (-2.2, 0.12), (-2.1, 0.09), (-2.0, 0.14), (-1.9, 0.12), (-1.8, 0.11), (-1.7, 0.13), (-1.6, 0.1), (-1.5, 0.1), (-1.4, 0.07), (-1.3, 0.05), (-1.2, 0.04), (-1.1, 0.06), (-1.0, 0.04), (-0.9, 0.05), (-0.8, 0.05), (-0.7, 0.06), (-0.6, 0.09), (-0.5, 0.06), (-0.45, 0.08), (-0.35, 0.06), (-0.25, 0.06), (-0.15, 0.06), (-0.05, 0.08), (0.0, 0.19), (0.05, 0.15), (0.12, 0.07), (0.25, 0.06), (0.35, 0.08), (0.45, 0.095), (0.55, 0.08), (0.65, 0.07), (0.8, 0.04), (0.95, 0.035), (1.1, 0.03), (1.25, 0.02), (1.4, 0.01), (1.55, 0.0), (2.0, 0.0)]
f_pz_up = [(-4, 0.02), (-3.9, 0.05), (-3.8, 0.03), (-3.7, 0.015), (-3.5, 0.01), (-3.3, 0.01), (-3.1, 0.015), (-3.0, 0.02), (-2.9, 0.07), (-2.8, 0.07), (-2.7, 0.1), (-2.6, 0.17), (-2.55, 0.25), (-2.5, 0.17), (-2.45, 0.2), (-2.35, 0.2), (-2.25, 0.13), (-2.15, 0.11), (-2.05, 0.09), (-1.95, 0.07), (-1.85, 0.09), (-1.75, 0.06), (-1.65, 0.05), (-1.55, 0.05), (-1.45, 0.05), (-1.35, 0.06), (-1.25, 0.12), (-1.15, 0.1), (-1.1, 0.14), (-1.0, 0.11), (-0.92, 0.24), (-0.85, 0.16), (-0.75, 0.14), (-0.65, 0.1), (-0.55, 0.06), (-0.45, 0.05), (-0.35, 0.06), (-0.25, 0.05), (-0.15, 0.05), (-0.05, 0.06), (0.05, 0.05), (0.15, 0.02), (0.25, 0.025), (0.35, 0.03), (0.45, 0.035), (0.55, 0.04), (0.65, 0.05), (0.75, 0.035), (0.9, 0.03), (1.05, 0.025), (1.2, 0.02), (1.35, 0.015), (1.5, 0.005), (1.55, 0.0), (2.0, 0.0)]
f_px_up = [(-4, 0.02), (-3.9, 0.08), (-3.8, 0.05), (-3.7, 0.04), (-3.55, 0.025), (-3.4, 0.025), (-3.25, 0.025), (-3.1, 0.04), (-3.0, 0.06), (-2.9, 0.1), (-2.8, 0.08), (-2.7, 0.11), (-2.6, 0.15), (-2.5, 0.12), (-2.4, 0.11), (-2.3, 0.18), (-2.2, 0.12), (-2.1, 0.08), (-2.0, 0.07), (-1.9, 0.1), (-1.8, 0.07), (-1.7, 0.065), (-1.6, 0.07), (-1.5, 0.1), (-1.4, 0.12), (-1.3, 0.19), (-1.25, 0.14), (-1.15, 0.1), (-1.05, 0.06), (-0.95, 0.09), (-0.85, 0.05), (-0.75, 0.04), (-0.65, 0.05), (-0.55, 0.03), (-0.45, 0.06), (-0.35, 0.06), (-0.25, 0.05), (-0.15, 0.04), (-0.05, 0.14), (0.0, 0.15), (0.05, 0.1), (0.12, 0.05), (0.25, 0.04), (0.4, 0.04), (0.55, 0.035), (0.7, 0.04), (0.85, 0.03), (1.0, 0.025), (1.15, 0.03), (1.3, 0.05), (1.4, 0.07), (1.5, 0.02), (1.55, 0.0), (2.0, 0.0)]
f_py_dn = [(-4, 0.01), (-3.9, 0.06), (-3.8, 0.03), (-3.6, 0.02), (-3.4, 0.02), (-3.3, 0.015), (-3.2, 0.04), (-3.1, 0.1), (-3.0, 0.13), (-2.9, 0.18), (-2.8, 0.12), (-2.7, 0.1), (-2.6, 0.15), (-2.5, 0.13), (-2.4, 0.1), (-2.3, 0.07), (-2.2, 0.06), (-2.1, 0.05), (-2.0, 0.08), (-1.9, 0.11), (-1.8, 0.11), (-1.7, 0.12), (-1.6, 0.09), (-1.5, 0.06), (-1.4, 0.06), (-1.3, 0.07), (-1.2, 0.05), (-1.1, 0.04), (-1.0, 0.035), (-0.9, 0.025), (-0.8, 0.02), (-0.7, 0.02), (-0.6, 0.025), (-0.5, 0.02), (-0.4, 0.02), (-0.3, 0.02), (-0.2, 0.015), (-0.1, 0.02), (0.0, 0.03), (0.1, 0.045), (0.2, 0.04), (0.3, 0.05), (0.4, 0.04), (0.5, 0.045), (0.6, 0.05), (0.7, 0.04), (0.8, 0.06), (0.9, 0.05), (1.0, 0.04), (1.1, 0.055), (1.2, 0.05), (1.3, 0.045), (1.4, 0.03), (1.5, 0.01), (1.55, 0.0), (2.0, 0.0)]
f_pz_dn = [(-4, 0.02), (-3.9, 0.06), (-3.8, 0.04), (-3.7, 0.02), (-3.6, 0.03), (-3.5, 0.025), (-3.4, 0.03), (-3.3, 0.02), (-3.2, 0.04), (-3.1, 0.1), (-3.0, 0.09), (-2.9, 0.1), (-2.8, 0.1), (-2.7, 0.07), (-2.6, 0.05), (-2.5, 0.055), (-2.4, 0.06), (-2.3, 0.08), (-2.2, 0.08), (-2.1, 0.1), (-2.0, 0.13), (-1.9, 0.1), (-1.8, 0.09), (-1.7, 0.11), (-1.6, 0.18), (-1.5, 0.13), (-1.4, 0.15), (-1.3, 0.19), (-1.2, 0.13), (-1.1, 0.07), (-1.0, 0.08), (-0.9, 0.11), (-0.8, 0.13), (-0.7, 0.12), (-0.6, 0.13), (-0.5, 0.1), (-0.4, 0.1), (-0.3, 0.11), (-0.2, 0.1), (-0.1, 0.1), (-0.05, 0.12), (0.05, 0.06), (0.15, 0.04), (0.25, 0.03), (0.35, 0.07), (0.45, 0.05), (0.55, 0.04), (0.65, 0.035), (0.75, 0.06), (0.85, 0.06), (0.95, 0.05), (1.05, 0.055), (1.15, 0.05), (1.3, 0.05), (1.4, 0.03), (1.55, 0.0), (2.0, 0.0)]
f_px_dn = [(-4, 0.02), (-3.9, 0.05), (-3.8, 0.04), (-3.7, 0.02), (-3.55, 0.01), (-3.4, 0.01), (-3.3, 0.02), (-3.2, 0.05), (-3.1, 0.07), (-3.0, 0.05), (-2.9, 0.07), (-2.8, 0.06), (-2.7, 0.08), (-2.6, 0.07), (-2.5, 0.06), (-2.4, 0.055), (-2.3, 0.05), (-2.2, 0.055), (-2.1, 0.07), (-2.0, 0.09), (-1.9, 0.1), (-1.8, 0.1), (-1.7, 0.14), (-1.6, 0.17), (-1.5, 0.12), (-1.45, 0.17), (-1.35, 0.17), (-1.25, 0.18), (-1.15, 0.17), (-1.05, 0.19), (-0.95, 0.12), (-0.9, 0.17), (-0.85, 0.12), (-0.75, 0.08), (-0.65, 0.1), (-0.55, 0.07), (-0.45, 0.08), (-0.35, 0.06), (-0.25, 0.05), (-0.15, 0.04), (-0.05, 0.06), (0.0, 0.12), (0.1, 0.09), (0.2, 0.07), (0.3, 0.06), (0.4, 0.05), (0.5, 0.04), (0.6, 0.045), (0.7, 0.04), (0.8, 0.07), (0.9, 0.05), (1.0, 0.04), (1.1, 0.035), (1.2, 0.03), (1.3, 0.025), (1.4, 0.02), (1.5, 0.005), (1.55, 0.0), (2.0, 0.0)]

# ---------------------------------------------------------------------------
# Panel descriptions, labels, styles
# ---------------------------------------------------------------------------
ORBITALS = ["py", "pz", "px"]
ORBITAL_COLORS = {"py": "#12904a", "pz": "#6b3fa0", "px": "#fca41c"}
ARROW_COLOR = "#f26a24"
FONT = "Noto Sans"

PANEL_CURVES = {
    "a": {"py": (a_py_up, a_py_dn), "pz": (a_pz_up, a_pz_dn), "px": (a_px_up, a_px_dn)},
    "b": {"py": (b_py_up, b_py_dn), "pz": (b_pz_up, b_pz_dn), "px": (b_px_up, b_px_dn)},
    "c": {"py": (c_py_up, c_py_dn), "pz": (c_pz_up, c_pz_dn), "px": (c_px_up, c_px_dn)},
    "d": {"py": (d_py_up, d_py_dn), "pz": (d_pz_up, d_pz_dn), "px": (d_px_up, d_px_dn)},
    "e": {"py": (e_py_up, e_py_dn), "pz": (e_pz_up, e_pz_dn), "px": (e_px_up, e_px_dn)},
    "f": {"py": (f_py_up, f_py_dn), "pz": (f_pz_up, f_pz_dn), "px": (f_px_up, f_px_dn)},
}
GRID = [["a", "c", "e"], ["b", "d", "f"]]
ELEMENTS = ["Pb", "Bi"]
COLUMN_TITLES = [
    "[001] Dimers @ Mn/W(110)",
    "[11\u03050] Dimers @ Mn/W(110)",
    "[11\u03051] Dimers @ Mn/W(110)",
]
X_LABELS = [[-4, -2, 0], [-4, -2, 0], [-4, -2, 0, 2]]
Y_LABELS = [[-0.4, -0.2, 0, 0.2, 0.4, 0.6], [-0.4, -0.2, 0, 0.2, 0.4]]
X_MAJOR, X_MINOR = [-4, -2, 0, 2], [-3, -1, 1]
Y_MAJOR, Y_MINOR = [-0.4, -0.2, 0, 0.2, 0.4, 0.6], [-0.3, -0.1, 0.1, 0.3, 0.5]

# spin arrows: x per column, (tail, tip) per row
ARROW_UP_X = [-3.35, -3.30, -3.30]
ARROW_DN_X = [-3.43, -3.41, -3.40]
ARROW_UP_Y = [(0.136, 0.342), (0.223, 0.43)]
ARROW_DN_Y = [(-0.188, -0.366), (-0.179, -0.357)]

PW, PH = 572, 525
XMIN, XMAX = -4.0, 2.0
YMIN, YMAX = -0.4, 0.6
XS = alt.Scale(domain=[XMIN, XMAX], nice=False, zero=False)
YS = alt.Scale(domain=[YMIN, YMAX], nice=False, zero=False)
TICK_MAJOR, TICK_MINOR = 29, 14   # tick lengths in px


def dx(px):
    return px * (XMAX - XMIN) / PW


def dy(px):
    return px * (YMAX - YMIN) / PH


def x_axis(row, col):
    if row == 0:
        return None
    return alt.Axis(values=X_LABELS[col], title=None, grid=False, domain=False, ticks=False, tickSize=0,
                    labelExpr="datum.value < 0 ? '-' + abs(datum.value) : '' + datum.value",
                    labelFont=FONT, labelFontSize=34, labelColor="black", labelPadding=22,
                    labelFlush=False, labelOverlap=False, labelBound=False)


def y_axis(row, col):
    if col != 0:
        return None
    return alt.Axis(values=Y_LABELS[row], title=None, grid=False, domain=False, ticks=False, tickSize=0,
                    labelExpr="datum.value == 0 ? '0' : format(abs(datum.value), '.1f')",
                    labelFont=FONT, labelFontSize=34, labelColor="black", labelPadding=13,
                    labelFlush=False, labelOverlap=False, labelBound=False, labelBaseline="middle")


def text_layer(text, x, y, size, align="left", angle=0):
    return alt.Chart(pd.DataFrame({"t": [text]})).mark_text(
        font=FONT, fontSize=size, align=align, baseline="alphabetic", color="black", angle=angle
    ).encode(x=alt.value(x), y=alt.value(y), text="t:N")


def panel(row, col):
    key = GRID[row][col]
    X = lambda f: alt.X(f, type="quantitative", scale=XS, axis=x_axis(row, col))
    Y = lambda f: alt.Y(f, type="quantitative", scale=YS, axis=y_axis(row, col))

    # inward ticks on all four sides
    segs = []
    for vals, ln in ((Y_MAJOR, TICK_MAJOR), (Y_MINOR, TICK_MINOR)):
        for v in vals:
            segs.append(dict(x=XMIN, x2=XMIN + dx(ln), y=v, y2=v))
            segs.append(dict(x=XMAX - dx(ln), x2=XMAX, y=v, y2=v))
    for vals, ln in ((X_MAJOR, TICK_MAJOR), (X_MINOR, TICK_MINOR)):
        for v in vals:
            segs.append(dict(x=v, x2=v, y=YMIN, y2=YMIN + dy(ln)))
            segs.append(dict(x=v, x2=v, y=YMAX - dy(ln), y2=YMAX))
    ticks = alt.Chart(pd.DataFrame(segs)).mark_rule(color="black", strokeWidth=3).encode(
        x=X("x"), x2="x2", y=Y("y"), y2="y2")

    layers = [ticks]

    # LDOS curves
    for orb in ORBITALS:
        up, dn = PANEL_CURVES[key][orb]
        rows = [dict(E=e, dos=v, spin="up") for e, v in up] + [dict(E=e, dos=-v, spin="dn") for e, v in dn]
        layers.append(alt.Chart(pd.DataFrame(rows)).mark_line(
            color=ORBITAL_COLORS[orb], strokeWidth=3.5, clip=True, strokeJoin="round", interpolate="monotone"
        ).encode(x=X("E"), y=Y("dos"), detail="spin:N", order="E:Q"))

    # zero lines
    zero = pd.DataFrame([dict(x=XMIN, x2=XMAX, y=0.0, y2=0.0), dict(x=0.0, x2=0.0, y=YMIN, y2=YMAX)])
    layers.append(alt.Chart(zero).mark_rule(color="black", strokeWidth=2.5).encode(
        x=X("x"), x2="x2", y=Y("y"), y2="y2"))

    # spin arrows
    head = 42
    ux, dnx = ARROW_UP_X[col], ARROW_DN_X[col]
    (ut, utip), (dt, dtip) = ARROW_UP_Y[row], ARROW_DN_Y[row]
    shafts = pd.DataFrame([dict(x=ux, y=ut, y2=utip - dy(head * 0.8)),
                           dict(x=dnx, y=dt, y2=dtip + dy(head * 0.8))])
    layers.append(alt.Chart(shafts).mark_rule(color=ARROW_COLOR, strokeWidth=6).encode(
        x=X("x"), y=Y("y"), y2="y2"))
    layers.append(alt.Chart(pd.DataFrame([dict(x=ux, y=utip - dy(head / 2))])).mark_point(
        shape="M0,-1L0.82,1L-0.82,1Z", filled=True, size=head * head, color=ARROW_COLOR, opacity=1, strokeWidth=0
    ).encode(x=X("x"), y=Y("y")))
    layers.append(alt.Chart(pd.DataFrame([dict(x=dnx, y=dtip + dy(head / 2))])).mark_point(
        shape="M0,1L0.82,-1L-0.82,-1Z", filled=True, size=head * head, color=ARROW_COLOR, opacity=1, strokeWidth=0
    ).encode(x=X("x"), y=Y("y")))

    # panel tag and element
    tag_x = [30, 30, 41][col]
    layers.append(text_layer("(%s)" % key, tag_x, [55, 59][row], 37))
    elem_right = [[509, 522, 529], [505, 518, 523]][row][col]
    layers.append(text_layer(ELEMENTS[row], elem_right, [104, 88][row], 38, align="right"))

    if row == 0:
        layers.append(text_layer(COLUMN_TITLES[col], PW / 2 + 12, -22, 36, align="center"))

    if row == 0 and col == 2:
        # orbital legend
        for i, orb in enumerate(ORBITALS):
            ly = [70.7, 123.0, 170.7][i]
            layers.append(alt.Chart(pd.DataFrame({"a": [0]})).mark_rule(
                color=ORBITAL_COLORS[orb], strokeWidth=6
            ).encode(x=alt.value(130), x2=alt.value(186), y=alt.value(ly)))
            layers.append(text_layer("p", 216, ly, 42))
            layers.append(text_layer(orb[1], 245, [89, 146, 194][i], 32))

    if row == 1 and col == 0:
        layers.append(text_layer("LDOS (states/eV)", -102, 47, 35, align="center", angle=270))

    if row == 1 and col == 1:
        layers.append(text_layer("E - E", 266, 628, 39, align="right"))
        layers.append(text_layer("F", 266, 647, 26))
        layers.append(text_layer("(eV)", 293, 628, 39))

    return alt.layer(*layers).properties(width=PW, height=PH)


panels = [panel(r, c) for r in range(2) for c in range(3)]

chart = alt.concat(*panels, columns=3, spacing=0, bounds="flush").properties(
    padding={"left": 8, "top": 205, "right": 0, "bottom": 4},
    background="white",
).configure_view(stroke="black", strokeWidth=4)

chart.save("out.html", embed_options={"renderer": "svg", "actions": False})
